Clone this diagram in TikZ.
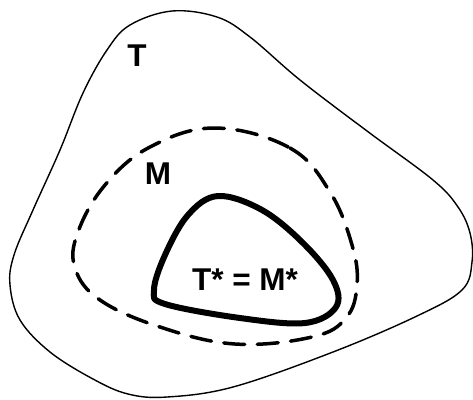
\documentclass[tikz,border=0pt]{standalone}
\usepackage{fontspec}
\setmainfont{Liberation Sans}
\begin{document}
\begin{tikzpicture}[x=1pt,y=-1pt,
  outerline/.style={line width=1.4pt,line join=round},
  dashline/.style={line width=3.5pt,line cap=round,dash pattern=on 21pt off 12.5pt},
  thickline/.style={line width=6pt,line join=round},
  lab/.style={font=\fontsize{31.5}{31.5}\selectfont\bfseries,inner sep=0pt}]
\useasboundingbox (0,0) rectangle (473,399);
\draw[outerline] plot[smooth cycle,tension=0.6] coordinates {
 (172,11) (217,17) (250,37) (300,80) (367,131) (433,180) (458,207)
 (470,233) (472,262) (462,290) (417,316) (333,352) (233,387) (167,397)
 (128,394) (93,379) (50,352) (20,320) (10,285) (14,255) (33,210)
 (60,150) (83,93) (107,50) (130,25)};
\draw[dashline] plot[smooth cycle,tension=0.65] coordinates {
 (215,128) (290,148) (330,192) (352,245) (357,285) (346,318) (312,337)
 (235,344) (160,327) (100,300) (75,268) (78,232) (105,185) (150,147)};
\draw[thickline] plot[smooth cycle,tension=0.6] coordinates {
 (218,196) (262,210) (303,243) (333,280) (336,307) (305,323) (240,318)
 (165,304) (154,290) (165,255) (188,215)};
\node[lab] (t) at (137,56) {T};
\node[lab] (m) at (158,174) {M};
\node[lab] (tm) at (245,280) {T* = M*};
\end{tikzpicture}
\end{document}
